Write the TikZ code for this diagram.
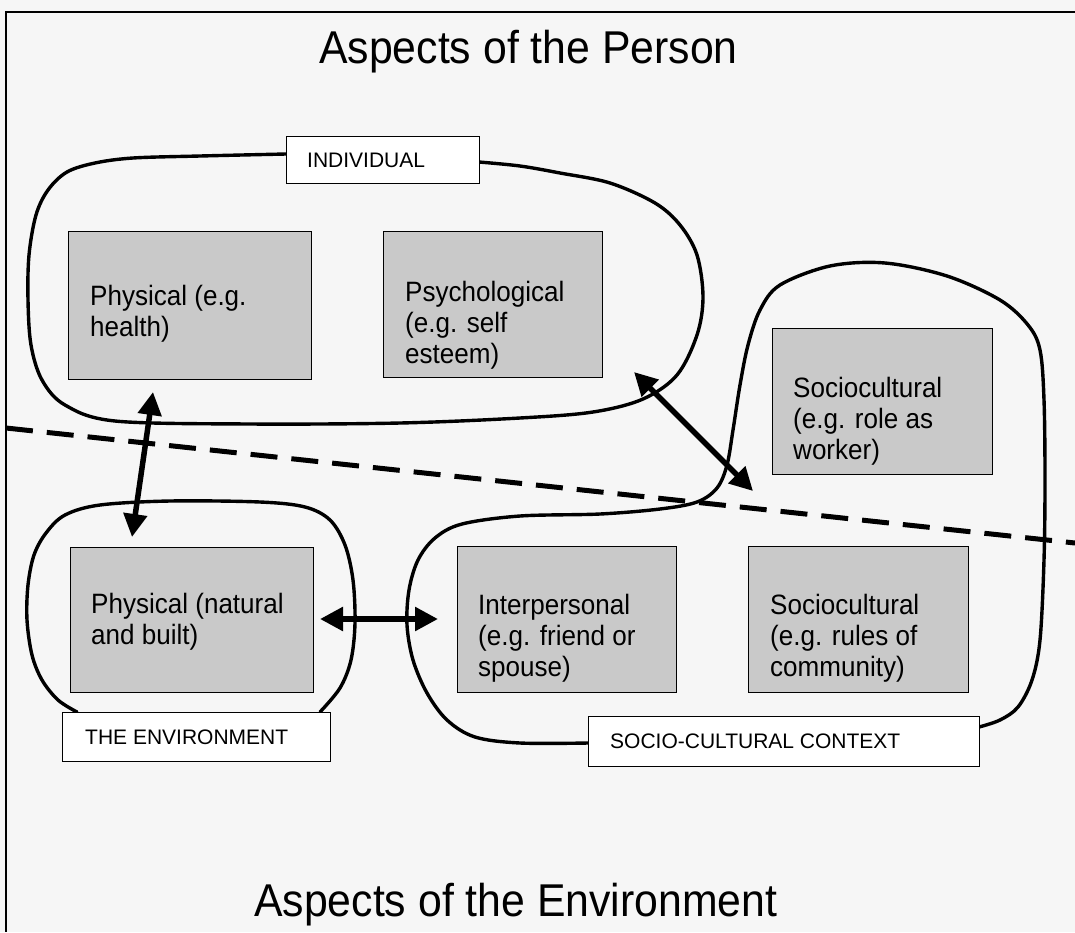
\documentclass[tikz,border=0pt]{standalone}
\usepackage{fontspec}
\setmainfont{Liberation Sans}
% slightly condensed face for the box texts and headings
\newfontfamily\narrowface[FakeStretch=0.93]{Liberation Sans}
\usetikzlibrary{arrows.meta}
\definecolor{boxgray}{RGB}{201,201,201}
\definecolor{paper}{RGB}{246,246,246}

\begin{document}
\begin{tikzpicture}[x=1pt,y=-1pt,
  aspect/.style={draw=black, line width=1.4pt, fill=boxgray, inner sep=0pt, anchor=north west},
  tagbox/.style={draw=black, line width=1.4pt, fill=white, inner sep=0pt, anchor=north west},
  % multi-line text: the base anchor sits on the last line
  boxtext/.style={anchor=base west, align=left, inner sep=0pt, font=\narrowface\fontsize{28}{31}\selectfont},
  tagtext/.style={anchor=base west, inner sep=0pt, font=\fontsize{21}{24}\selectfont},
  title/.style={anchor=base west, inner sep=0pt, font=\narrowface\fontsize{46}{52}\selectfont},
  contour/.style={draw=black, line width=3.4pt, line join=round, line cap=round},
  link/.style={{Triangle[length=23pt,width=23pt]}-{Triangle[length=23pt,width=23pt]}, line width=5.5pt},
  divide/.style={line width=5pt, dash pattern=on 27pt off 14pt}
]
% page and frame
\fill[paper] (0,0) rectangle (1075,932);
\useasboundingbox (0,0) rectangle (1075,932);
\coordinate (frTR) at (1075,12);
\coordinate (frTL) at (6,12);
\coordinate (frBL) at (6,932);
\draw[line width=2pt] (frTR) -- (frTL) -- (frBL);

% person / environment divide
\coordinate (divL) at (6,428);
\coordinate (divR) at (1075,543);
\draw[divide] (divL) -- (divR);

% individual contour
\draw[contour] plot[smooth, tension=0.55] coordinates {
  (286,154) (200,156) (133,158) (95,163) (67,172) (48,190) (36,215) (29,255)
  (28,300) (31,345) (42,380) (65,405) (115,421) (250,424) (400,423) (520,418)
  (593,412) (643,399) (677,375) (697,335) (703,297) (697,255) (680,225)
  (655,203) (610,183) (560,173) (520,166) (479,162)};

% environment contour
\draw[contour] plot[smooth, tension=0.55] coordinates {
  (77,712) (58,700) (42,680) (32,655) (27,620) (28,585) (34,555) (46,533)
  (65,515) (100,505) (170,501) (260,502) (305,507) (330,520) (345,545)
  (353,580) (355,623) (351,660) (340,688) (320,712)};

% socio-cultural contour
\draw[contour] plot[smooth, tension=0.55] coordinates {
  (588,743) (520,743) (475,737) (447,720) (427,693) (413,660) (407,625)
  (409,590) (418,560) (435,538) (462,524) (520,516) (600,514) (660,509)
  (697,502) (717,488) (727,465) (733,430) (740,385) (748,345) (760,310)
  (780,285) (830,266) (885,263) (947,276) (1000,300) (1028,325) (1040,350)
  (1044,400) (1045,480) (1044,560) (1040,640) (1032,680) (1018,707)
  (1000,720) (979,727)};

% aspect boxes
\node[aspect, minimum width=243, minimum height=148] (physhealth) at (68,231) {};
\node[aspect, minimum width=219, minimum height=146] (psych) at (383,231) {};
\node[aspect, minimum width=220, minimum height=146] (sociorole) at (772,328) {};
\node[aspect, minimum width=243, minimum height=145] (physnat) at (70,547) {};
\node[aspect, minimum width=219, minimum height=146] (interp) at (457,546) {};
\node[aspect, minimum width=220, minimum height=146] (sociorules) at (748,546) {};

\node[boxtext] (physhealthT) at (90,336) {Physical (e.g.\\health)};
\node[boxtext] (psychT) at (405,363) {Psychological\\(e.g. self\\esteem)};
\node[boxtext] (sociroleT) at (793,459) {Sociocultural\\(e.g. role as\\worker)};
\node[boxtext] (physnatT) at (91,644) {Physical (natural\\and built)};
\node[boxtext] (interpT) at (478,676) {Interpersonal\\(e.g. friend or\\spouse)};
\node[boxtext] (sociorulesT) at (770,676) {Sociocultural\\(e.g. rules of\\community)};

% contour labels
\node[tagbox, minimum width=193, minimum height=47] (indiv) at (286,136) {};
\node[tagtext] at (307,167) {INDIVIDUAL};
\node[tagbox, minimum width=268, minimum height=49] (envir) at (62,712) {};
\node[tagtext] at (85,744) {THE ENVIRONMENT};
\node[tagbox, minimum width=391, minimum height=50] (socctx) at (588,716) {};
\node[tagtext] at (610,748) {SOCIO-CULTURAL CONTEXT};

% interaction arrows
\coordinate (vUp) at (153,392);
\coordinate (vDown) at (132,537);
\coordinate (dUp) at (634,372);
\coordinate (dDown) at (753,491);
\coordinate (hLeft) at (320,619);
\coordinate (hRight) at (438,619);
\draw[link] (vUp) -- (vDown);
\draw[link] (dUp) -- (dDown);
\draw[link] (hLeft) -- (hRight);

% headings
\node[title] (headP) at (319,63) {Aspects of the Person};
\node[title] (headE) at (254,916) {Aspects of the Environment};
\end{tikzpicture}
\end{document}
